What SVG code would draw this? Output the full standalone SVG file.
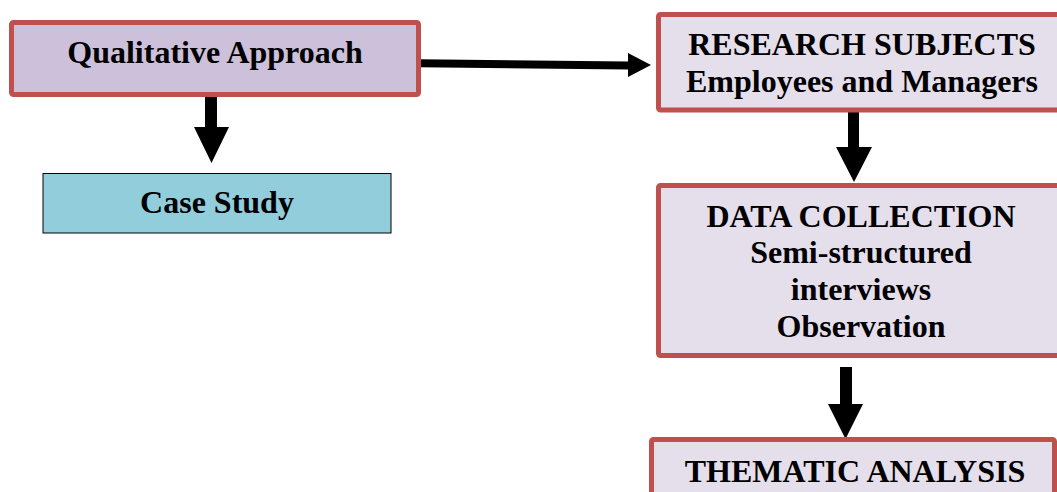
<svg xmlns="http://www.w3.org/2000/svg" width="1057" height="492" viewBox="0 0 1057 492">
<style>
.box{stroke:#c0504d;stroke-width:5;}
.lav{fill:#e5dfec;}
.t{font-family:"Liberation Serif","Times New Roman",serif;font-weight:bold;font-size:32px;fill:#000;text-anchor:middle;}
.arr{fill:#000;}
</style>
<rect width="1057" height="492" fill="#ffffff"/>
<g id="connectors">
<polygon class="arr" points="205,97 217,97 217,127 229,127 211.5,163 194,127 205,127"/>
<polygon class="arr" points="419,59.3 628,61.6 628,53 651,65 628,77 628,69.4 419,67.3"/>
<polygon class="arr" points="848,112 859,112 859,147 872,147 854,182 836,147 848,147"/>
<polygon class="arr" points="840,367 852,367 852,404 863,404 845.5,439 828,404 840,404"/>
</g>
<g id="qualitative">
<rect class="box" x="11.5" y="22.5" width="407" height="72" rx="2" fill="#ccc0da"/>
<text class="t" x="215" y="63">Qualitative Approach</text>
</g>
<g id="casestudy">
<rect x="43" y="173.5" width="348" height="59.5" fill="#92cddc" stroke="#000" stroke-width="1"/>
<text class="t" x="217" y="213">Case Study</text>
</g>
<g id="research">
<rect class="box lav" x="658.5" y="14.5" width="410" height="95.5" rx="2"/>
<text class="t" x="862" y="55">RESEARCH SUBJECTS</text>
<text class="t" x="862" y="92">Employees and Managers</text>
</g>
<g id="datacollection">
<rect class="box lav" x="658.5" y="185.5" width="410" height="170" rx="2"/>
<text class="t" x="861" y="227">DATA COLLECTION</text>
<text class="t" x="861" y="263">Semi-structured</text>
<text class="t" x="861" y="300">interviews</text>
<text class="t" x="861" y="337">Observation</text>
</g>
<g id="thematic">
<rect class="box lav" x="651.5" y="439.5" width="403" height="80" rx="2"/>
<text class="t" x="855" y="482">THEMATIC ANALYSIS</text>
</g>
</svg>
